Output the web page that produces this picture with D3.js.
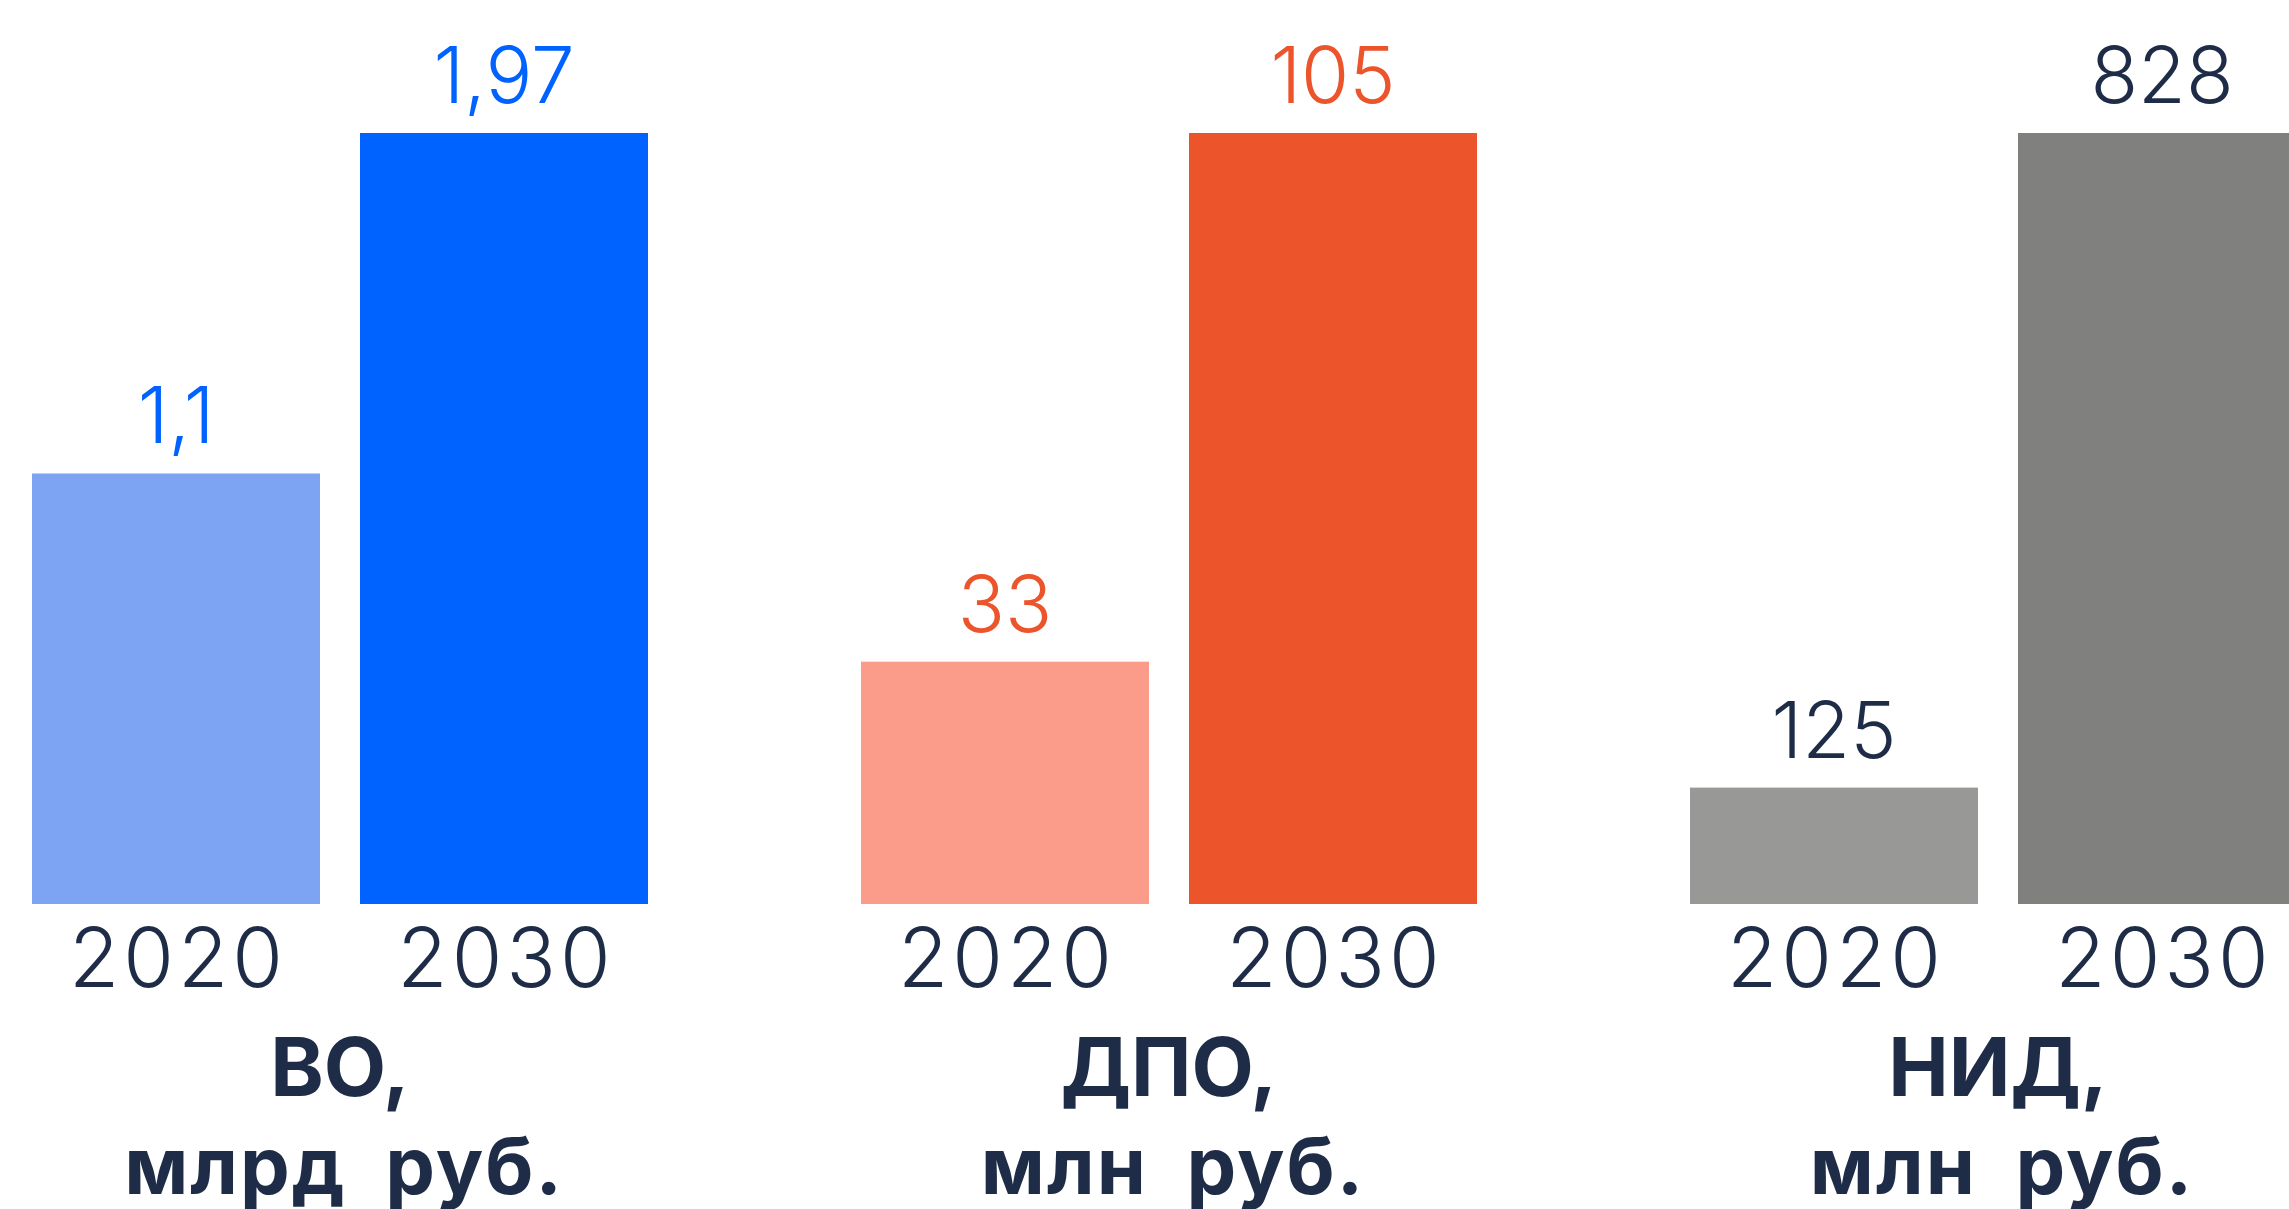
<!DOCTYPE html>
<html>
<head>
<meta charset="utf-8">
<script src="https://cdn.jsdelivr.net/npm/d3@7"></script>
<style>
  html, body { margin: 0; padding: 0; background: #ffffff; overflow: hidden; }
  svg { display: block; }
</style>
</head>
<body>
<svg id="chart" width="2289" height="1209"></svg>
<script>
// ---- data ----
const groups = ["ВО,", "ДПО,", "НИД,"];
const units = ["млрд руб.", "млн руб.", "млн руб."];
const years = ["2020", "2030"];
const values2020 = [1.1, 33, 125];
const values2030 = [1.97, 105, 828];
const labels2020 = ["1,1", "33", "125"];
const labels2030 = ["1,97", "105", "828"];
const colors2020 = ["#7DA4F2", "#FA9C89", "#989897"];
const colors2030 = ["#0062FF", "#EC542C", "#80807E"];
const labelColors = ["#0062FF", "#EC542C", "#1E2C47"];

const textColor = "#1E2C47";
const baseY = 904, topY = 133;

const svg = d3.select("#chart");

const x0 = d3.scaleBand().domain(groups).range([32, 2306]).paddingInner(213 / 829).paddingOuter(0);
const x1 = d3.scaleBand().domain(years).range([0, x0.bandwidth()]).paddingInner(40 / 328).paddingOuter(0);

groups.forEach((g, i) => {
  const vals = [values2020[i], values2030[i]];
  const labs = [labels2020[i], labels2030[i]];
  const cols = [colors2020[i], colors2030[i]];
  const y = d3.scaleLinear().domain([0, d3.max(vals)]).range([baseY, topY]);
  const gx = x0(g);
  const grp = svg.append("g").attr("transform", `translate(${gx},0)`);
  const rows = years.map((yr, j) => ({ yr, v: vals[j], lab: labs[j], col: cols[j] }));

  grp.selectAll("rect").data(rows).join("rect")
    .attr("x", d => x1(d.yr))
    .attr("width", x1.bandwidth())
    .attr("y", d => y(d.v))
    .attr("height", d => baseY - y(d.v))
    .attr("fill", d => d.col);

  grp.selectAll("text.val").data(rows).join("text")
    .attr("class", "val")
    .attr("x", d => x1(d.yr) + x1.bandwidth() / 2)
    .attr("y", d => y(d.v) - 30)
    .attr("text-anchor", "middle")
    .attr("font-family", "Inter, 'Noto Sans', sans-serif")
    .attr("font-weight", 300)
    .attr("font-size", 78)
    .attr("fill", labelColors[i])
    .text(d => d.lab);

  // year axis labels
  const axis = d3.axisBottom(x1).tickSize(0).tickPadding(0);
  const ag = grp.append("g").attr("transform", `translate(0,${baseY})`).call(axis);
  ag.select(".domain").remove();
  ag.selectAll("text")
    .attr("y", 83)
    .attr("dy", 0)
    .attr("dx", 2)
    .attr("letter-spacing", 4)
    .attr("font-family", "Inter, 'Noto Sans', sans-serif")
    .attr("font-weight", 300)
    .attr("font-size", 82)
    .attr("fill", textColor);

  const cx = x0.bandwidth() / 2;
  grp.append("text")
    .attr("x", cx).attr("y", 1096)
    .attr("text-anchor", "middle")
    .attr("font-family", "Inter, 'Noto Sans', sans-serif")
    .attr("font-weight", 700)
    .attr("font-size", 81)
    .attr("fill", textColor)
    .text(g);
  grp.append("text")
    .attr("x", cx + 4).attr("y", 1194)
    .attr("text-anchor", "middle")
    .attr("font-family", "Inter, 'Noto Sans', sans-serif")
    .attr("font-weight", 700)
    .attr("font-size", 79)
    .attr("letter-spacing", 2)
    .attr("word-spacing", 18)
    .attr("fill", textColor)
    .text(units[i]);
});
</script>
</body>
</html>
